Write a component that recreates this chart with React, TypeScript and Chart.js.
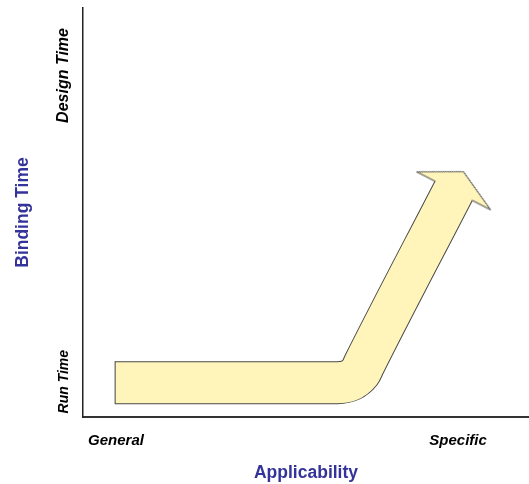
import React, { useEffect, useRef } from 'react';
import { Chart, registerables } from 'chart.js';

Chart.register(...registerables);

// ---- data ----
const xTickValues = [0.74, 8.41];
const xTickLabels = ['General', 'Specific'];
const yTickValues = [1.64, 9.51];
const yTickLabels = ['Run Time', 'Design Time'];
const xTitle = 'Applicability';
const yTitle = 'Binding Time';
// centre line of the arrow, in (Applicability, Binding Time) units
const arrowX = [0.72, 5.7, 6.22, 6.3, 8.31];
const arrowY = [0.84, 0.84, 1.1, 1.28, 5.53];

// ---- styles ----
const FONT = '"Liberation Sans", Arial, Helvetica, sans-serif';
const YELLOW = '#FFF4B9';
const OUTLINE = '#4a4a4a';
const TITLE_COLOR = '#333399';
const BAND = 41;
const HEAD_HALF = 41.5;
const HEAD_LEN = 21.5;
const HEAD_ROTATION = 27.2;

function makeHead(): HTMLCanvasElement {
  const c = document.createElement('canvas');
  const W = 90, H = 50;
  c.width = W;
  c.height = H;
  const g = c.getContext('2d')!;
  const cx = W / 2, cy = H / 2;
  const bh = BAND / 2;
  g.fillStyle = YELLOW;
  g.fillRect(cx - bh + 0.5, cy - 1, BAND - 1, 2.5);
  g.beginPath();
  g.moveTo(cx - HEAD_HALF, cy);
  g.lineTo(cx, cy - HEAD_LEN);
  g.lineTo(cx + HEAD_HALF, cy);
  g.closePath();
  g.fill();
  g.beginPath();
  g.moveTo(cx - bh, cy);
  g.lineTo(cx - HEAD_HALF, cy);
  g.lineTo(cx, cy - HEAD_LEN);
  g.lineTo(cx + HEAD_HALF, cy);
  g.lineTo(cx + bh, cy);
  g.strokeStyle = OUTLINE;
  g.lineWidth = 1;
  g.lineJoin = 'miter';
  g.stroke();
  return c;
}

export default function App() {
  const ref = useRef<HTMLCanvasElement | null>(null);

  useEffect(() => {
    if (!ref.current) return;
    const head = makeHead();
    const pts = arrowX.map((x, i) => ({ x, y: arrowY[i] }));
    const last = pts.length - 1;

    const chart = new Chart(ref.current, {
      type: 'line',
      data: {
        datasets: [
          {
            data: pts,
            borderColor: YELLOW,
            borderWidth: BAND,
            borderCapStyle: 'butt',
            borderJoinStyle: 'round',
            cubicInterpolationMode: 'monotone',
            fill: false,
            clip: false,
            pointRadius: (c: any) => (c.dataIndex === 0 ? BAND / 2 + 1 : c.dataIndex === last ? 10 : 0),
            pointStyle: (c: any) => (c.dataIndex === 0 ? 'line' : head),
            pointRotation: (c: any) => (c.dataIndex === 0 ? 90 : HEAD_ROTATION),
            pointBorderColor: OUTLINE,
            pointBorderWidth: 1,
            pointBackgroundColor: YELLOW,
          } as any,
          {
            data: pts,
            borderColor: OUTLINE,
            borderWidth: BAND + 2,
            borderCapStyle: 'butt',
            borderJoinStyle: 'round',
            cubicInterpolationMode: 'monotone',
            fill: false,
            clip: false,
            pointRadius: 0,
          } as any,
        ],
      },
      options: {
        animation: false,
        responsive: false,
        events: [],
        layout: { autoPadding: false, padding: { top: 8, left: 0, right: 0, bottom: 0 } },
        plugins: { legend: { display: false }, tooltip: { enabled: false } },
        scales: {
          x: {
            type: 'linear',
            position: 'bottom',
            min: 0,
            max: 10,
            grid: { display: false, drawTicks: true, tickLength: 14.5 },
            border: { display: true, color: '#333', width: 2 },
            afterBuildTicks: (s: any) => {
              s.ticks = xTickValues.map((v) => ({ value: v }));
            },
            afterFit: (s: any) => {
              s.height = 67;
            },
            ticks: {
              autoSkip: false,
              maxRotation: 0,
              minRotation: 0,
              padding: 0,
              color: '#000',
              font: { family: FONT, size: 15, weight: 'bold', style: 'italic' },
              callback: (_v: any, i: number) => xTickLabels[i],
            },
            title: {
              display: true,
              text: xTitle,
              color: TITLE_COLOR,
              font: { family: FONT, size: 17.5, weight: 'bold' },
              padding: { top: 0, bottom: 0.5 },
            },
          },
          y: {
            type: 'linear',
            position: 'left',
            min: 0,
            max: 10,
            grid: { display: false, drawTicks: true, tickLength: 19 },
            border: { display: true, color: '#222', width: 1.5 },
            afterBuildTicks: (s: any) => {
              s.ticks = yTickValues.map((v) => ({ value: v }));
            },
            afterFit: (s: any) => {
              s.width = 83;
            },
            ticks: {
              autoSkip: false,
              minRotation: 90,
              maxRotation: 90,
              padding: 0,
              color: '#000',
              font: (c: any) => ({
                family: FONT,
                size: c.index === 1 ? 16 : 14,
                weight: 'bold',
                style: 'italic',
                lineHeight: 1,
              }),
              callback: (_v: any, i: number) => yTickLabels[i],
            },
            title: {
              display: true,
              text: yTitle,
              color: TITLE_COLOR,
              font: { family: FONT, size: 17.5, weight: 'bold' },
              padding: { top: 12.5, bottom: 0 },
            },
          },
        },
      } as any,
    });
    return () => chart.destroy();
  }, []);

  return (
    <div style={{ position: 'fixed', left: 0, top: 0, width: 529, height: 484, background: '#fff' }}>
      <canvas ref={ref} width={529} height={484} style={{ display: 'block' }} />
    </div>
  );
}
